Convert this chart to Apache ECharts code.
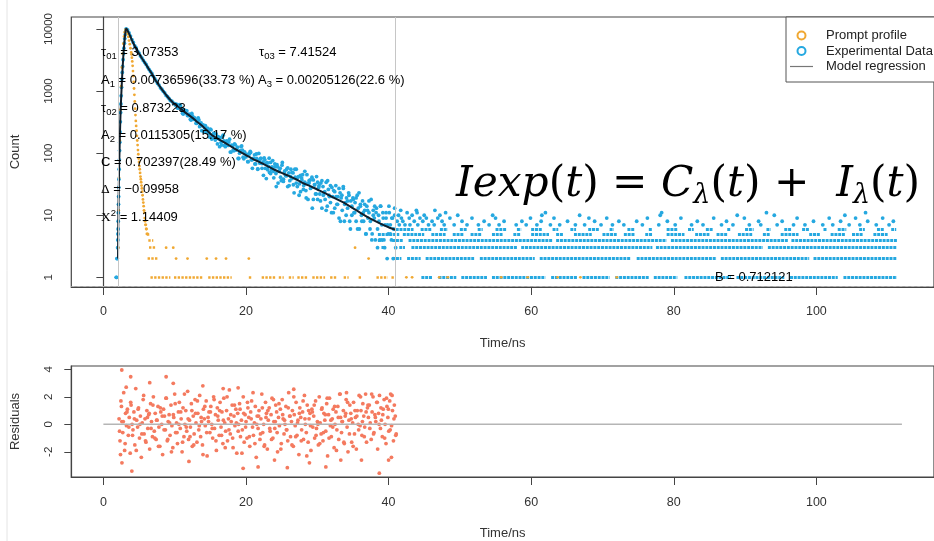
<!DOCTYPE html>
<html><head><meta charset="utf-8">
<script src="https://cdn.jsdelivr.net/npm/echarts@6/dist/echarts.min.js"></script>
<style>html,body{margin:0;padding:0;background:#fff}#c{width:934px;height:541px}</style>
</head><body><div id="c"></div>
<script>
// ---------------- data ----------------
const xTicks = [0, 20, 40, 60, 80, 100];
const yTicks = [1, 10, 100, 1000, 10000];
const resTicks = [-2, 0, 2, 4];
const fitRange = [2.15, 40.95];
const background = 0.712121;
const residualBaseline = [[0, 0], [112, 0]];

const modelCurve = [[2.05,2],[2.08,5],[2.12,15],[2.18,40],[2.28,130],[2.4,420],[2.55,1100],[2.7,2400],[2.85,4500],[3.0,7200],[3.1,9000],[3.18,10100],[3.3,9900],[3.5,8900],[3.8,7500],[4.2,5900],[4.9,4200],[5.5,3250],[6.0,2650],[6.5,2150],[7.0,1750],[7.35,1470],[8.0,1150],[8.5,960],[9.0,810],[9.5,700],[10.0,615],[10.8,527],[11.5,450],[12.0,410],[12.5,370],[13.0,330],[13.8,280],[14.5,235],[15.2,196],[16.0,172],[17.0,148],[18.0,126],[19.0,108],[20.0,93],[21.0,80],[22.0,71],[23.0,62],[24.0,54],[25.0,48],[26.0,43],[27.0,38],[28.0,33],[29.0,29.5],[30.0,26],[31.0,23],[32.0,20],[33.0,17.5],[34.0,15.3],[35.0,13],[36.0,11],[37.0,9.4],[38.0,8.2],[39.0,7.2],[40.0,6.4],[41.0,5.8]];

const expRise = [[1.8,1],[1.85,1],[1.9,2],[1.95,2],[2.0,3],[2.02,4],[2.04,5],[2.06,6],[2.08,8],[2.1,11],[2.12,15],[2.14,20],[2.16,28],[2.18,38],[2.21,55],[2.24,78],[2.27,110],[2.3,150],[2.34,220],[2.38,320],[2.42,450],[2.46,620],[2.5,840],[2.55,1150],[2.6,1550],[2.65,2000],[2.7,2500],[2.76,3200],[2.82,4000],[2.88,4900],[2.94,5900],[3.0,7000],[3.06,8100],[3.12,9100],[3.17,9800]];

const expPeak = [[3.2,10050],[3.4,9650],[3.6,8620],[3.8,7680],[4.0,6750],[4.2,6060],[4.4,5350],[4.6,4950],[4.8,4400],[5.0,4080],[5.2,3660],[5.4,3420],[5.6,3120],[5.8,2880],[6.0,2680],[6.2,2440],[6.4,2240],[6.6,2070],[6.8,1920],[7.0,1730],[7.2,1590],[7.4,1460],[7.6,1330],[7.8,1250],[8.0,1130],[8.2,1070],[8.4,990],[8.6,935],[8.8,850],[9.0,810],[9.2,760],[9.4,705],[9.6,690],[9.8,640],[10.0,625]];

const expMid = [[10.2,611],[10.4,535],[10.6,578],[10.8,582],[11.0,491],[11.2,426],[11.4,463],[11.6,483],[11.8,406],[12.0,425],[12.2,352],[12.4,439],[12.6,356],[12.8,370],[13.0,303],[13.2,328],[13.4,343],[13.6,277],[13.8,230],[14.0,284],[14.2,254],[14.4,220],[14.6,253],[14.8,209],[15.0,244],[15.2,169],[15.4,202],[15.6,174],[15.8,204],[16.0,141],[16.2,171],[16.4,177],[16.6,135],[16.8,195],[17.0,133],[17.2,149],[17.4,137],[17.6,151],[17.8,104],[18.0,134],[18.2,112],[18.4,141],[18.6,112],[18.8,125],[19.0,82],[19.2,110],[19.4,131],[19.6,86],[19.8,105],[20.0,87],
[10.1,597],[10.3,610],[10.5,530],[10.7,604],[10.9,526],[11.1,439],[11.3,501],[11.5,446],[11.7,480],[11.9,401],[12.1,417],[12.3,342],[12.5,399],[12.7,350],[12.9,348],[13.1,302],[13.3,371],[13.5,267],[13.7,306],[13.9,278],[14.1,221],[14.3,278],[14.5,224],[14.7,235],[14.9,182],[15.1,238],[15.3,187],[15.5,210],[15.7,163],[15.9,175],[16.1,184],[16.3,127],[16.5,149],[16.7,183],[16.9,157],[17.1,127],[17.3,157],[17.5,133],[17.7,168],[17.9,104],[18.1,132],[18.3,109],[18.5,136],[18.7,115],[18.9,82],[19.1,100],[19.3,127],[19.5,112],[19.7,81],[19.9,98]];

const expLate = [[20.15,95],[20.3,73],[20.45,98],[20.6,107],[20.75,78],[20.9,57],[21.05,81],[21.2,94],[21.35,67],[21.5,82],[21.65,56],[21.8,99],[21.95,69],[22.1,82],[22.25,57],[22.4,72],[22.55,84],[22.7,57],[22.85,39],[23.0,70],[23.15,61],[23.3,49],[23.45,71],[23.6,54],[23.75,76],[23.9,40],[24.05,60],[24.2,47],[24.35,65],[24.5,33],[24.65,52],[24.8,57],[24.95,36],[25.1,71],[25.25,38],[25.4,50],[25.55,44],[25.7,55],[25.85,29],[26.0,48],[26.15,36],[26.3,55],[26.45,39],[26.6,48],[26.75,23],[26.9,41],[27.05,55],[27.2,29],[27.35,42],[27.5,32],[27.65,24],[27.8,40],[27.95,45],[28.1,30],[28.25,34],[28.4,25],[28.55,45],[28.7,18],[28.85,33],[29.0,37],[29.15,28],[29.3,13],[29.45,37],[29.6,31],[29.75,22],[29.9,42],[30.05,18],[30.2,28],[30.35,22],[30.5,33],[30.65,13],[30.8,29],[30.95,23],[31.1,18],[31.25,34],[31.4,14],[31.55,26],[31.7,20],[31.85,30],[32.0,11],[32.15,20],[32.3,25],[32.45,13],[32.6,30],[32.75,15],[32.9,20],[33.05,9],[33.2,23],[33.35,19],[33.5,12],[33.65,29],[33.8,8],[33.95,16],[34.1,19],[34.25,13],[34.4,23],[34.55,8],[34.7,17],[34.85,10],[35.0,19],[35.15,11],[35.3,16],[35.45,8],[35.6,21],[35.75,13],[35.9,6],[36.05,15],[36.2,10],[36.35,17],[36.5,8],[36.65,12],[36.8,5],[36.95,14],[37.1,9],[37.25,11],[37.4,6],[37.55,18],[37.7,5],[37.85,12],[38.0,9],[38.15,4],[38.3,13],[38.45,6],[38.6,10],[38.75,4],[38.9,14],[39.05,7],[39.2,11],[39.35,4],[39.5,7],[39.65,9],[39.8,2],[39.95,5],[40.1,11],[40.25,7],[40.4,4],[40.55,9],[40.7,6],[40.85,13],[41.0,3],
[20.25,73],[20.45,97],[20.65,102],[20.85,78],[21.05,82],[21.25,67],[21.45,97],[21.65,55],[21.85,77],[22.05,82],[22.25,68],[22.45,44],[22.65,78],[22.85,69],[23.05,54],[23.25,83],[23.45,47],[23.65,60],[23.85,51],[24.05,67],[24.25,29],[24.45,60],[24.65,51],[24.85,41],[25.05,64],[25.25,35],[25.45,52],[25.65,43],[25.85,58],[26.05,30],[26.25,42],[26.45,49],[26.65,31],[26.85,55],[27.05,33],[27.25,40],[27.45,21],[27.65,44],[27.85,37],[28.05,26],[28.25,51],[28.45,19],[28.65,32],[28.85,36],[29.05,27],[29.25,41],[29.45,18],[29.65,31],[29.85,22],[30.05,34],[30.25,30],[30.45,17],[30.65,36],[30.85,21],[31.05,24],[31.25,12],[31.45,36],[31.65,21],[31.85,16],[32.05,28],[32.25,11],[32.45,24],[32.65,20],[32.85,15],[33.05,27],[33.25,8],[33.45,21],[33.65,27],[33.85,15],[34.05,10],[34.25,17],[34.45,21],[34.65,6],[34.85,14],[35.05,18],[35.25,11],[35.45,19],[35.65,6],[35.85,23],[36.05,14],[36.25,8],[36.45,11],[36.65,15],[36.85,5],[37.05,12],[37.25,17],[37.45,8],[37.65,4],[37.85,10],[38.05,14],[38.25,11],[38.45,3],[38.65,8],[38.85,14],[39.05,4],[39.25,9],[39.45,3],[39.65,11],[39.85,7],[40.05,14],[40.25,5],[40.45,9],[40.65,2],[40.85,10]];

const expSparse = [[41.5,7],[42.3,7],[43.0,7],[44.1,7],[45.6,7],[46.4,7],[47.8,7],[49.2,7],[51.0,7],[52.6,7],[54.1,7],[55.5,7],[57.9,7],[59.3,7],[60.8,7],[62.7,7],[64.0,7],[66.2,7],[67.5,7],[69.8,7],[71.4,7],[73.0,7],[75.6,7],[77.9,7],[80.2,7],[82.5,7],[84.1,7],[86.7,7],[88.3,7],[90.6,7],[92.2,7],[94.5,7],[96.8,7],[98.4,7],[100.9,7],[102.3,7],[104.6,7],[106.1,7],[108.4,7],[110.2,7],
[41.2,8],[42.0,8],[43.6,8],[44.8,8],[46.1,8],[47.5,8],[50.3,8],[53.4,8],[56.2,8],[58.7,8],[61.4,8],[65.1,8],[68.9,8],[72.3,8],[74.8,8],[79.1,8],[83.3,8],[87.4,8],[91.9,8],[95.2,8],[99.6,8],[103.4,8],[107.2,8],[110.8,8],
[41.8,9],[42.9,9],[44.4,9],[45.3,9],[46.9,9],[48.6,9],[51.7,9],[55.0,9],[59.9,9],[63.2,9],[68.1,9],[70.6,9],[76.3,9],[81.0,9],[85.6,9],[89.9,9],[97.3,9],[101.8,9],[105.5,9],[109.3,9],
[41.4,10],[43.3,10],[45.0,10],[47.2,10],[49.7,10],[54.6,10],[61.5,10],[66.8,10],[78.1,10],[88.9,10],[94.1,10],[104.0,10],
[42.6,11],[44.0,11],[48.0,11],[62.0,11],[78.3,11],[93.0,11],[106.9,11],[41.7,12],[43.9,12],[46.5,12]];

// runs of consecutive occupied channels on the integer-count rows (start ns, end ns)
const expRow1 = [[44.6,46.2],[47.0,49.5],[50.2,53.8],[54.5,62.0],[62.8,66.5],[67.2,71.0],[71.8,76.5],[77.2,80.5],[81.5,88.0],[88.8,95.5],[96.3,103.0],[103.8,111.3]];
const expRow2 = [[40.5,41.8],[42.6,44.5],[45.2,52.0],[52.8,60.5],[61.2,74.0],[74.8,86.0],[86.6,99.0],[99.6,111.3]];
const expRow3 = [[39.0,39.6],[41.5,42.3],[43.2,58.0],[58.6,77.0],[77.5,92.5],[93.2,111.3]];
const expRow4 = [[38.5,39.2],[40.5,42.0],[42.8,63.0],[63.5,79.0],[79.6,96.0],[96.5,111.3]];
const expRow5 = [[38.5,41.5],[42.0,45.0],[46.0,48.0],[49.0,50.5],[51.5,53.0],[54.5,56.0],[57.5,58.5],[60.0,62.5],[63.5,64.5],[66.0,68.5],[70.0,72.0],[73.0,74.5],[76.0,77.0],[79.0,81.5],[83.0,85.0],[86.0,87.5],[89.0,91.0],[92.5,93.5],[95.0,97.5],[99.0,100.5],[102.0,104.0],[105.0,106.5],[108.0,110.0]];
const expRow6 = [[41,43.5],[44.5,46],[47.2,48.3],[50,51],[52.5,53.2],[55,56.5],[58,58.6],[60,61.5],[63,63.8],[65.5,66.3],[68,69.5],[71,71.6],[73.5,74.5],[76.5,77],[79,80.5],[82,82.8],[84.5,85.5],[87.5,88],[90,91.2],[93,93.6],[95.5,96.5],[98,99],[101,101.5],[103,104.2],[106,106.8],[108.5,109.5],[110.5,111.2]];

const promptDecay = [[2.1,3],[2.15,12],[2.2,40],[2.3,160],[2.4,500],[2.5,1200],[2.6,2400],[2.7,4000],[2.8,5800],[2.9,7600],[3.0,8900],[3.1,9700],[3.2,9900],[3.3,9300],[3.4,8400],[3.5,7500],[3.6,6500],[3.7,5700],[3.8,4900],[3.9,4200],[3.95,3900],[4.0,3450],[4.05,3000],[4.1,2550],[4.15,2100],[4.2,1750],[4.25,1400],[4.3,1100],[4.35,870],[4.4,680],[4.45,520],[4.5,410],[4.55,330],[4.6,275],[4.65,230],[4.7,190],[4.75,160],[4.8,135],[4.85,112],[4.9,96],[4.95,82],[5.0,72],[5.05,62],[5.1,55],[5.15,48],[5.2,42],[5.25,38],[5.3,34],[5.35,30],[5.4,27],[5.45,24],[5.5,21],[5.55,18],[5.6,16],[5.65,14],[5.7,12],[5.75,11],[5.8,9],[5.85,8],[5.9,7],[5.95,7],[6.0,6],[6.05,6],[6.1,5],[6.2,5]];
const promptSparse = [[42.5,1],[43.3,1],[47.1,1],[48.3,1],[55.8,1],[59.5,1],[63.7,1],[66.9,1],[72.0,1],[10.2,2],[11.8,2],[14.5,2],[15.8,2],[17.2,2],[20.4,2],[37.2,2],[8.8,3],[9.8,3],[35.3,3]];
const promptRow1 = [[6.6,9.4],[9.9,13.9],[14.7,18.0],[20.4,20.8],[22.2,24.1],[24.6,25.3],[26.0,26.7],[27.2,28.6],[29.3,31.1],[31.8,32.7],[33.7,34.4],[35.8,36.2],[38.3,39.9],[40.4,40.9]];
const promptRow2 = [[6.2,7.6]];
const promptRow3 = [[6.4,7.4]];
const promptRow4 = [[6.3,7.0]];
const promptRow5 = [[6.1,6.5]];

const residuals = [
[2.20,0.4],[2.33,-1.2],[2.46,1.7],[2.59,0.2],[2.72,-0.6],[2.85,2.3],[2.98,-1.9],[3.11,0.8],[3.24,-0.1],[3.37,1.1],
[3.50,-0.8],[3.63,0.5],[3.76,-2.1],[3.89,1.4],[4.02,0.0],[4.15,-0.4],[4.28,0.9],[4.41,-1.5],[4.54,2.6],[4.67,0.3],
[4.80,-0.2],[4.93,1.2],[5.06,-1.0],[5.19,0.6],[5.32,-2.4],[5.45,0.1],[5.58,1.8],[5.71,-0.7],[5.84,0.4],[5.97,-1.3],
[6.10,1.0],[6.23,-0.3],[6.36,0.7],[6.49,-1.8],[6.62,1.5],[6.75,0.2],[6.88,-0.9],[7.01,2.0],[7.14,-0.5],[7.27,0.8],
[7.40,-1.1],[7.53,0.3],[7.66,1.3],[7.79,-0.2],[7.92,-1.6],[8.05,0.9],[8.18,0.0],[8.31,-2.2],[8.44,1.1],[8.57,0.6],
[8.70,-0.4],[8.83,1.9],[8.96,-1.2],[9.09,0.2],[9.22,0.7],[9.35,-0.8],[9.48,1.4],[9.61,-0.1],[9.74,-1.7],[9.87,0.5],
[10.00,2.2],[10.13,-0.6],[10.26,0.1],[10.39,-1.4],[10.52,0.9],[10.65,1.6],[10.78,-0.3],[10.91,0.4],[11.04,-2.0],[11.17,1.2],
[11.30,-0.9],[11.43,0.0],[11.56,1.0],[11.69,-0.5],[11.82,2.4],[11.95,-1.1],[12.08,0.3],[12.21,-0.2],[12.34,1.5],[12.47,-1.6],
[12.60,0.6],[12.73,-0.7],[12.86,1.8],[12.99,0.1],[13.12,-1.3],[13.25,0.8],[13.38,-0.4],[13.51,2.1],[13.64,-0.9],[13.77,0.2],
[13.90,-1.5],[14.03,1.1],[14.16,0.4],[14.29,-0.1],[14.42,1.7],[14.55,-2.3],[14.68,0.5],[14.81,0.9],[14.94,-0.6],[15.07,1.3],
[15.20,0.0],[15.33,-1.0],[15.46,2.0],[15.59,-0.3],[15.72,0.7],[15.85,-1.9],[15.98,1.2],[16.11,0.3],[16.24,-0.8],[16.37,1.6],
[16.50,-0.2],[16.63,0.9],[16.76,-1.4],[16.89,1.9],[17.02,0.1],[17.15,-0.5],[17.28,1.0],[17.41,-1.2],[17.54,0.4],[17.67,2.5],
[17.80,-0.7],[17.93,0.2],[18.06,1.4],[18.19,-1.7],[18.32,0.6],[18.45,-0.1],[18.58,1.1],[18.71,-2.1],[18.84,0.8],[18.97,0.0],
[19.10,1.5],[19.23,-0.9],[19.36,0.3],[19.49,-0.4],[19.62,2.0],[19.75,-1.3],[19.88,0.7],[20.01,0.2],[20.14,-1.0],[20.27,1.2],
[20.40,0.5],[20.53,-1.6],[20.66,0.9],[20.79,1.7],[20.92,-0.2],[21.05,-0.8],[21.18,0.1],[21.31,1.3],[21.44,-2.4],[21.57,0.6],
[21.70,-0.3],[21.83,1.0],[21.96,-1.1],[22.09,0.4],[22.22,2.2],[22.35,-0.6],[22.48,0.0],[22.61,-1.5],[22.74,1.6],[22.87,0.8],
[23.00,-1.8],[23.13,0.3],[23.26,1.2],[23.39,-0.5],[23.52,0.7],[23.65,1.9],[23.78,-1.0],[23.91,0.2],[24.04,-0.3],[24.17,1.4],
[24.30,0.9],[24.43,-2.0],[24.56,0.5],[24.69,-0.1],[24.82,1.1],[24.95,-1.4],[25.08,1.8],[25.21,0.4],[25.34,-0.7],[25.47,0.0],
[25.60,1.3],[25.73,-0.4],[25.86,-1.2],[25.99,2.3],[26.12,0.6],[26.25,-0.9],[26.38,0.2],[26.51,1.0],[26.64,-1.6],[26.77,0.7],
[26.90,-0.1],[27.03,1.6],[27.16,-0.8],[27.29,0.3],[27.42,-2.2],[27.55,1.2],[27.68,0.5],[27.81,-0.4],[27.94,0.9],[28.07,-1.1],
[28.20,2.1],[28.33,0.0],[28.46,-0.6],[28.59,1.4],[28.72,-1.3],[28.85,0.4],[28.98,0.8],[29.11,-1.9],[29.24,1.1],[29.37,-0.2],
[29.50,0.6],[29.63,-1.0],[29.76,1.7],[29.89,-0.3],[30.02,0.2],[30.15,-1.5],[30.28,2.0],[30.41,0.1],[30.54,-0.7],[30.67,1.2],
[30.80,-1.2],[30.93,0.8],[31.06,0.3],[31.19,-0.5],[31.32,1.5],[31.45,-2.3],[31.58,0.7],[31.71,1.9],[31.84,-0.1],[31.97,-0.9],
[32.10,0.4],[32.23,1.1],[32.36,-1.7],[32.49,0.0],[32.62,0.9],[32.75,-0.4],[32.88,1.3],[33.01,-1.1],[33.14,2.2],[33.27,0.5],
[33.40,-0.6],[33.53,0.2],[33.66,1.0],[33.79,-1.4],[33.92,0.6],[34.05,1.8],[34.18,-0.2],[34.31,-2.0],[34.44,0.3],[34.57,1.4],
[34.70,0.8],[34.83,-1.3],[34.96,0.1],[35.09,1.6],[35.22,-0.7],[35.35,0.5],[35.48,-1.8],[35.61,1.0],[35.74,0.0],[35.87,2.1],
[36.00,-0.1],[36.13,1.0],[36.26,-0.8],[36.39,1.5],[36.52,0.6],[36.65,-0.2],[36.78,2.2],[36.91,-1.3],[37.04,1.2],[37.17,0.5],
[37.30,1.4],[37.43,0.1],[37.56,-1.1],[37.69,0.9],[37.82,2.0],[37.95,-0.6],[38.08,0.7],[38.21,0.2],[38.34,1.6],[38.47,-1.8],
[38.60,0.8],[38.73,2.1],[38.86,-0.3],[38.99,0.3],[39.12,-0.9],[39.25,1.1],[39.38,1.8],[39.51,0.0],[39.64,-1.4],[39.77,1.3],
[39.90,0.5],[40.03,-0.5],[40.16,1.7],[40.29,2.2],[40.42,-0.1],[40.55,1.0],[40.68,-1.2],[40.81,1.4],[40.94,0.6],[41.07,-0.7],
[2.27,-0.5],[2.53,1.3],[2.79,0.2],[3.05,-1.4],[3.31,0.9],[3.57,-0.2],[3.83,1.6],[4.09,-0.8],[4.35,0.4],[4.61,-1.9],
[4.87,1.1],[5.13,0.0],[5.39,-0.7],[5.65,2.1],[5.91,-1.2],[6.17,0.5],[6.43,0.8],[6.69,-0.3],[6.95,1.4],[7.21,-1.0],
[7.47,0.3],[7.73,-1.6],[7.99,1.2],[8.25,0.6],[8.51,-0.4],[8.77,1.9],[9.03,-1.1],[9.29,0.1],[9.55,-2.0],[9.81,0.7],
[10.07,1.5],[10.33,-0.6],[10.59,0.0],[10.85,0.9],[11.11,-1.3],[11.37,2.2],[11.63,-0.2],[11.89,0.4],[12.15,-0.9],[12.41,1.0],
[12.67,-1.5],[12.93,0.8],[13.19,1.7],[13.45,-0.1],[13.71,0.5],[13.97,-2.2],[14.23,1.3],[14.49,-0.6],[14.75,0.2],[15.01,0.9],
[15.27,-0.3],[15.53,1.8],[15.79,-1.2],[16.05,0.6],[16.31,1.0],[16.57,-0.8],[16.83,0.3],[17.09,-1.7],[17.35,2.0],[17.61,-0.4],
[17.87,0.7],[18.13,-1.0],[18.39,1.4],[18.65,0.1],[18.91,-0.5],[19.17,1.1],[19.43,-2.1],[19.69,0.8],[19.95,-0.2],[20.21,1.6],
[20.47,-0.9],[20.73,0.4],[20.99,2.3],[21.25,-1.4],[21.51,0.0],[21.77,0.6],[22.03,-0.7],[22.29,1.2],[22.55,-1.6],[22.81,0.5],
[23.07,1.0],[23.33,-0.3],[23.59,-1.1],[23.85,1.8],[24.11,0.2],[24.37,-0.6],[24.63,1.5],[24.89,-1.8],[25.15,0.7],[25.41,0.3],
[25.67,-0.4],[25.93,1.2],[26.19,0.6],[26.45,-1.5],[26.71,2.0],[26.97,-0.9],[27.23,0.1],[27.49,0.8],[27.75,-1.2],[28.01,1.7],
[28.27,0.4],[28.53,-2.3],[28.79,1.0],[29.05,-0.1],[29.31,0.9],[29.57,1.4],[29.83,-0.8],[30.09,0.0],[30.35,-1.4],[30.61,1.1],
[30.87,-0.6],[31.13,0.7],[31.39,1.9],[31.65,-1.0],[31.91,0.3],[32.17,-0.2],[32.43,1.3],[32.69,-1.9],[32.95,0.5],[33.21,2.2],
[33.47,0.2],[33.73,-1.3],[33.99,0.8],[34.25,1.6],[34.51,-0.7],[34.77,0.4],[35.03,-1.6],[35.29,1.0],[35.55,0.6],[35.81,-0.4],
[36.07,2.0],[36.33,0.2],[36.59,-0.9],[36.85,0.9],[37.11,1.4],[37.37,-0.3],[37.63,2.2],[37.89,-0.7],[38.15,0.5],[38.41,1.6],
[38.67,0.0],[38.93,1.2],[39.19,0.7],[39.45,-1.0],[39.71,1.9],[39.97,1.1],[40.23,-0.4],[40.49,2.1],[40.75,0.4],[41.01,-0.8],
[2.58,3.95],[3.83,3.46],[6.5,3.03],[8.8,3.46],[9.8,2.98],[13.95,2.8],[3.99,-3.4],[19.6,-3.2],[21.7,-3.1],[25.8,-3.15],[31.2,-3.1],[38.7,-3.55],[33.3,-2.6],[40.0,-2.6],[40.4,-2.4],[2.4,-2.2],[2.6,-2.8],[3.2,2.7],[16.8,2.6],[18.9,2.65],[26.7,2.55],[34.1,2.3],[12.0,-2.7],[24.0,-2.6],[28.9,-2.8],[36.2,-2.6]];

// ---------------- styling ----------------
const FONT = "'Liberation Sans', Arial, sans-serif";
const BLUE = '#25a8e0', ORANGE = '#f0a832', CORAL = '#f47a5f', MODEL = '#0f1f2c', AX = '#444';

function runsToLines(level, list) {
  return list.map(r => ({ coords: [[r[0], level], [r[1], level]] }));
}
const expRowLines = [].concat(runsToLines(1, expRow1), runsToLines(2, expRow2), runsToLines(3, expRow3),
  runsToLines(4, expRow4), runsToLines(5, expRow5), runsToLines(6, expRow6));
const promptRowLines = [].concat(runsToLines(1, promptRow1), runsToLines(2, promptRow2), runsToLines(3, promptRow3),
  runsToLines(4, promptRow4), runsToLines(5, promptRow5));

const GL = 71.3, GW = 868.1;
function xAxisDef(gi, margin, gap) {
  return {
    gridIndex: gi, type: 'value', min: -4.5, max: 116.5,
    axisLine: { show: true, onZero: false, lineStyle: { color: AX, width: 1.2 } },
    axisTick: { show: true, length: 8, customValues: xTicks, lineStyle: { color: AX, width: 1 } },
    axisLabel: { customValues: xTicks, margin: margin, fontSize: 12.5, color: '#333', fontFamily: FONT },
    splitLine: { show: false },
    name: 'Time/ns', nameLocation: 'middle', nameGap: gap,
    nameTextStyle: { fontSize: 13, color: '#333', fontFamily: FONT }
  };
}
const plainNumber = v => String(Math.round(v));

const annoRich = {
  t: { fontSize: 13, fontFamily: FONT, color: '#2a2a2a', lineHeight: 18 },
  s: { fontSize: 9.5, fontFamily: FONT, color: '#2a2a2a', lineHeight: 10, verticalAlign: 'bottom' },
  p: { fontSize: 9.5, fontFamily: FONT, color: '#2a2a2a', lineHeight: 10, verticalAlign: 'top' },
  g: { fontSize: 13.5, fontFamily: "'Liberation Serif', serif", color: '#2a2a2a', lineHeight: 18 }
};
function anno(x, y, text) {
  return { type: 'text', x: x, y: y, z: 100, silent: true,
    style: { text: text, rich: annoRich, align: 'left', verticalAlign: 'middle' } };
}
const SERIF = "'DejaVu Serif', serif";
const FS = 42.3, FSS = 27;
const formulaRich = {
  i: { fontFamily: SERIF, fontStyle: 'italic', fontSize: FS, color: '#111', lineHeight: 48 },
  r: { fontFamily: SERIF, fontSize: FS, color: '#111', lineHeight: 48 },
  b: { fontFamily: SERIF, fontSize: FS, color: '#8b6f69', lineHeight: 48 },
  s: { fontFamily: SERIF, fontStyle: 'italic', fontSize: FSS, color: '#111', lineHeight: 27, verticalAlign: 'bottom' }
};

const chart = echarts.init(document.getElementById('c'), null, { renderer: 'canvas' });
chart.setOption({
  animation: false,
  backgroundColor: '#fff',
  textStyle: { fontFamily: FONT },
  grid: [
    { left: GL, top: 17, width: GW, height: 270, show: true, borderColor: AX, borderWidth: 1.2 },
    { left: GL, top: 366, width: GW, height: 111, show: true, borderColor: AX, borderWidth: 1.2 }
  ],
  xAxis: [xAxisDef(0, 18, 50), xAxisDef(1, 19, 50)],
  yAxis: [
    { gridIndex: 0, type: 'log', logBase: 10, min: 0.698, max: 15610,
      axisLine: { show: true, lineStyle: { color: AX, width: 1.2 } },
      axisTick: { show: true, length: 7, customValues: yTicks, lineStyle: { color: AX } },
      axisLabel: { customValues: yTicks, formatter: plainNumber, rotate: 90, margin: 16, fontSize: 11.5, color: '#333', fontFamily: FONT },
      splitLine: { show: false },
      name: 'Count', nameLocation: 'middle', nameGap: 49,
      nameTextStyle: { fontSize: 13, color: '#333', fontFamily: FONT } },
    { gridIndex: 1, type: 'value', min: -3.83, max: 4.24,
      axisLine: { show: true, onZero: false, lineStyle: { color: AX, width: 1.2 } },
      axisTick: { show: true, length: 7, customValues: resTicks, lineStyle: { color: AX } },
      axisLabel: { customValues: resTicks, rotate: 90, margin: 16, fontSize: 11.5, color: '#333', fontFamily: FONT },
      splitLine: { show: false },
      name: 'Residuals', nameLocation: 'middle', nameGap: 49,
      nameTextStyle: { fontSize: 13, color: '#333', fontFamily: FONT } }
  ],
  legend: {
    orient: 'vertical', left: 786, top: 17, padding: [12, 2, 9, 4], itemGap: 2.5,
    itemWidth: 23, itemHeight: 8, borderColor: '#555', borderWidth: 1, backgroundColor: '#fff',
    textStyle: { fontSize: 13, color: '#222', fontFamily: FONT, padding: [0, 0, 0, 8] },
    selectedMode: false,
    data: [
      { name: 'Prompt profile', icon: 'circle', itemStyle: { color: '#fff', borderColor: ORANGE, borderWidth: 2 } },
      { name: 'Experimental Data', icon: 'circle', itemStyle: { color: '#fff', borderColor: BLUE, borderWidth: 2 } },
      { name: 'Model regression', icon: 'path://M0,0L23,0L23,1.2L0,1.2Z', itemStyle: { color: '#777', borderWidth: 0 } }
    ]
  },
  graphic: { elements: [
    { type: 'line', shape: { x1: 7, y1: 0, x2: 7, y2: 541 }, style: { stroke: '#e4e4e4', lineWidth: 1 }, silent: true },
    anno(101, 52, '{t|τ}{s|01}{t| = 3.07353}'),
    anno(101, 80.5, '{t|A}{s|1}{t| = 0.00736596(33.73 %)}'),
    anno(101, 108, '{t|τ}{s|02}{t| = 0.873223}'),
    anno(101, 135, '{t|A}{s|2}{t| = 0.0115305(15.17 %)}'),
    anno(101, 162.5, '{t|C = 0.702397(28.49 %)}'),
    anno(101, 189.5, '{g|Δ}{t| = −0.09958}'),
    anno(101, 217, '{g|X}{p|2}{t| = 1.14409}'),
    anno(259, 52, '{t|τ}{s|03}{t| = 7.41524}'),
    anno(258, 80.5, '{t|A}{s|3}{t| = 0.00205126(22.6 %)}'),
    anno(715, 277, '{t|B = 0.712121}'),
    { type: 'text', x: 456, y: 185, z: 100, silent: true,
      style: { text: '{i|Iexp}{r|(}{i|t}{r|) = }{i|C}{s|λ}{b|(}{i|t}{b|)}{r| +  }{i|I}{s|λ}{b|(}{i|t}{b|)}',
        rich: formulaRich, align: 'left', verticalAlign: 'middle' } }
  ]},
  series: [
    { name: 'guides', type: 'line', xAxisIndex: 0, yAxisIndex: 0, z: 1,
      data: [[fitRange[0], background]], showSymbol: false, symbol: 'none', lineStyle: { width: 0 }, silent: true,
      markLine: { silent: true, symbol: ['none', 'none'], label: { show: false },
        data: [
          { xAxis: fitRange[0], lineStyle: { color: '#c6c6c6', width: 1, type: 'solid' } },
          { xAxis: fitRange[1], lineStyle: { color: '#c6c6c6', width: 1, type: 'solid' } },
          { yAxis: background, lineStyle: { color: '#b4b4b4', width: 1, type: [3, 3] } }
        ] } },
    { name: 'expRows', type: 'lines', coordinateSystem: 'cartesian2d', xAxisIndex: 0, yAxisIndex: 0, z: 2, silent: true,
      data: expRowLines, lineStyle: { color: BLUE, width: 3, type: [3, 0.8], opacity: 1, curveness: 0 } },
    { name: 'Experimental Data', type: 'scatter', xAxisIndex: 0, yAxisIndex: 0, z: 2, silent: true,
      symbol: 'circle', symbolSize: 3.8, itemStyle: { color: BLUE, opacity: 1 },
      data: [].concat(expRise, expPeak, expMid, expLate, expSparse) },
    { name: 'promptRows', type: 'lines', coordinateSystem: 'cartesian2d', xAxisIndex: 0, yAxisIndex: 0, z: 3, silent: true,
      data: promptRowLines, lineStyle: { color: ORANGE, width: 2.6, type: [2.4, 1.3], opacity: 1, curveness: 0 } },
    { name: 'Prompt profile', type: 'scatter', xAxisIndex: 0, yAxisIndex: 0, z: 3, silent: true,
      symbol: 'circle', symbolSize: 2.8, itemStyle: { color: ORANGE, opacity: 1 },
      data: [].concat(promptDecay, promptSparse) },
    { name: 'Model regression', type: 'line', xAxisIndex: 0, yAxisIndex: 0, z: 4, silent: true,
      data: modelCurve, showSymbol: false, symbol: 'none', smooth: 0.2,
      lineStyle: { color: MODEL, width: 2 } },
    { name: 'Residual points', type: 'scatter', xAxisIndex: 1, yAxisIndex: 1, z: 2, silent: true,
      symbol: 'circle', symbolSize: 3.8, itemStyle: { color: CORAL, opacity: 1 }, data: residuals },
    { name: 'zero', type: 'line', xAxisIndex: 1, yAxisIndex: 1, z: 3, silent: true,
      data: residualBaseline, showSymbol: false, symbol: 'none', lineStyle: { color: '#b5b5b5', width: 1.6 } }
  ]
});
</script></body></html>
